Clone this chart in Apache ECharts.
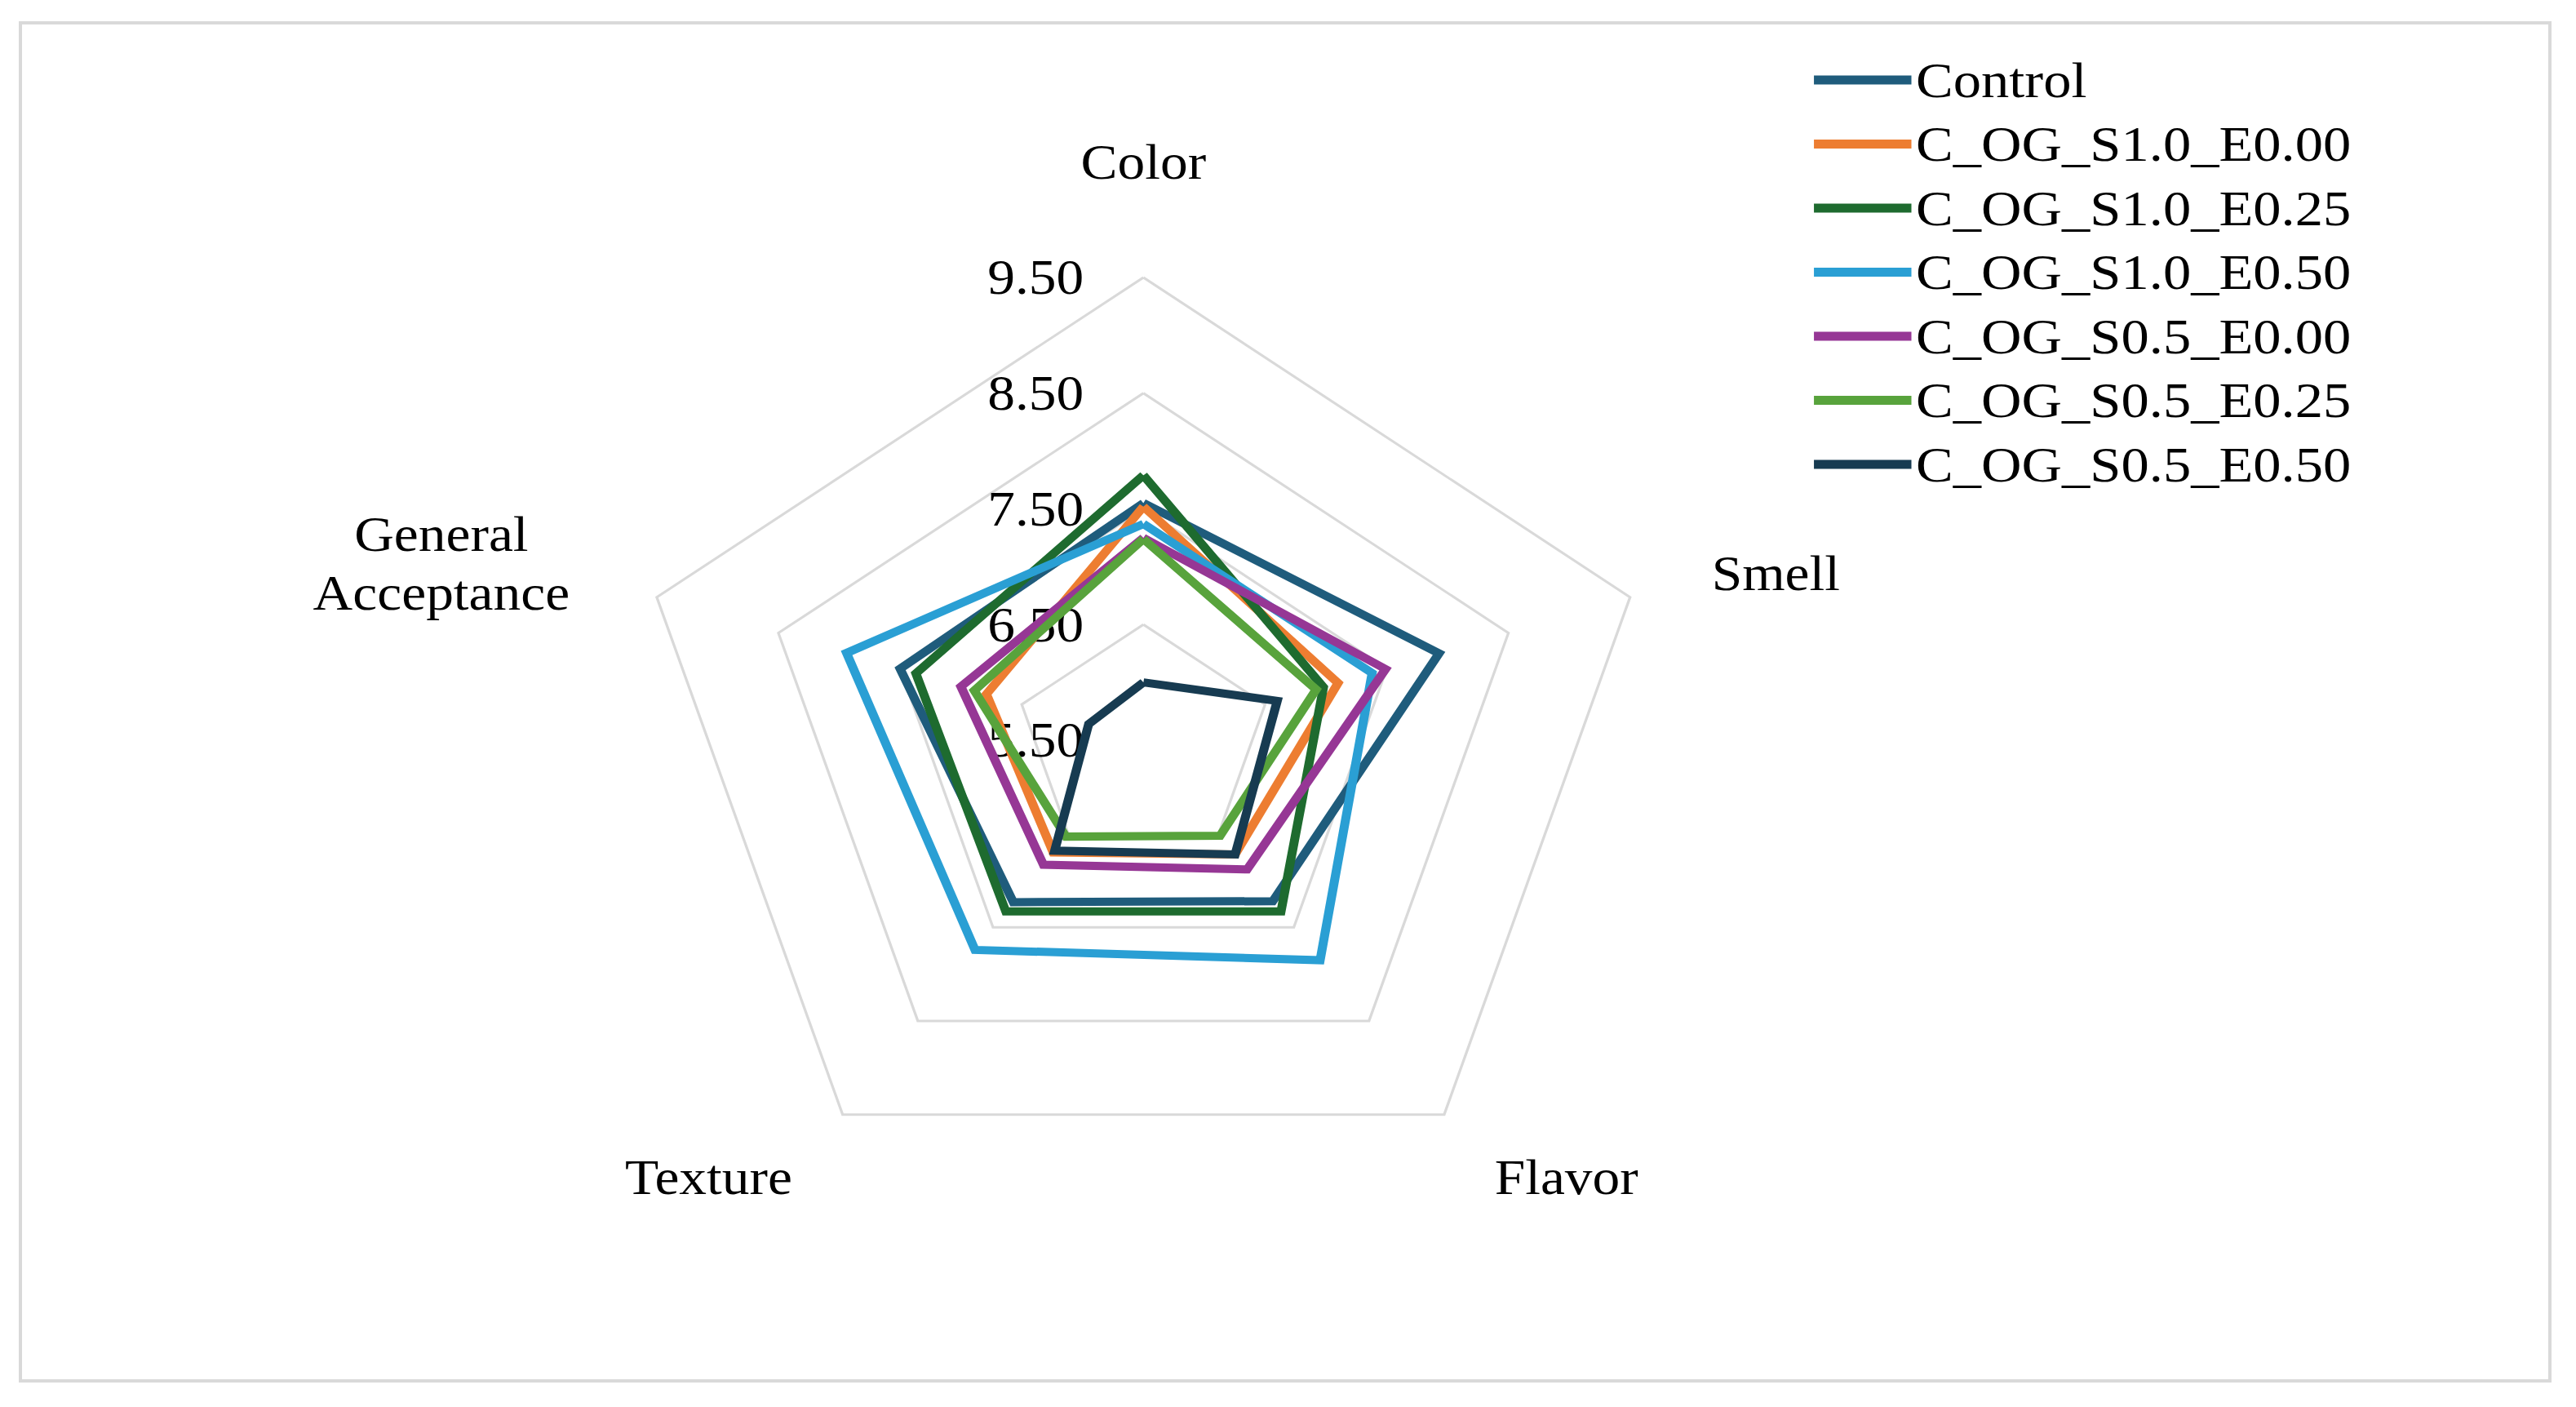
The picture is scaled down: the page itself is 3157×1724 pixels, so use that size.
<!DOCTYPE html>
<html>
<head>
<meta charset="utf-8">
<title>Sensory radar</title>
<script src="https://cdn.jsdelivr.net/npm/echarts@6/dist/echarts.min.js"></script>
<style>
  html, body { margin: 0; padding: 0; background: #fff; }
  #frame { position: absolute; left: 23px; top: 26px; width: 3104px; height: 1668px;
           border: 4px solid #d9d9d9; box-sizing: border-box; }
  /* the Excel original is wider than tall, so the radar is stretched a bit */
  #main { position: absolute; left: 0; top: 0; width: 2854px; height: 1724px;
          transform: scaleX(1.106); transform-origin: 0 0; }
</style>
</head>
<body>
<div id="frame"></div>
<div id="main"></div>
<script>
// ECharts lays indicators out counter-clockwise from the top
var categories = ['Color', 'General Acceptance', 'Texture', 'Flavor', 'Smell'];

var seriesNames = ['Control', 'C_OG_S1.0_E0.00', 'C_OG_S1.0_E0.25', 'C_OG_S1.0_E0.50',
                   'C_OG_S0.5_E0.00', 'C_OG_S0.5_E0.25', 'C_OG_S0.5_E0.50'];
var colors = ['#1f5c7c', '#ed7d31', '#1e6b2f', '#2a9fd4', '#963795', '#58a33c', '#173b51'];

//                Color  GenAcc Texture Flavor Smell
var control    = [7.55, 7.50, 7.23, 7.22, 7.93];
var s10_e000   = [7.52, 6.79, 6.70, 6.72, 7.10];
var s10_e025   = [7.79, 7.37, 7.33, 7.33, 6.98];
var s10_e050   = [7.37, 7.94, 7.74, 7.85, 7.38];
var s05_e000   = [7.25, 7.00, 6.83, 6.88, 7.49];
var s05_e025   = [7.24, 6.89, 6.53, 6.52, 6.92];
var s05_e050   = [6.00, 5.95, 6.68, 6.72, 6.60];
var allValues = [control, s10_e000, s10_e025, s10_e050, s05_e000, s05_e025, s05_e050];

var axisMin = 5.5;
var axisMax = 9.5;

var font = 'Liberation Serif, Times New Roman, serif';

var indicators = categories.map(function (c, i) {
  var ind = { name: c, min: axisMin, max: axisMax, nameGap: 95 };
  if (i === 0) {
    ind.nameGap = 141;
    ind.nameTextStyle = { align: 'center', verticalAlign: 'middle' };
    ind.axisLabel = {
      show: true, margin: 66, color: '#000', fontSize: 61, fontFamily: font,
      formatter: function (v) { return v.toFixed(2); }
    };
  } else if (i === 1) {
    ind.nameGap = 251;
    ind.nameTextStyle = { align: 'center', verticalAlign: 'middle', lineHeight: 72 };
  } else {
    ind.nameTextStyle = { verticalAlign: 'middle' };
  }
  return ind;
});

var series = allValues.map(function (vals, i) {
  return {
    name: seriesNames[i],
    type: 'radar',
    symbol: 'none',
    lineStyle: { color: colors[i], width: 10, join: 'miter' },
    itemStyle: { color: colors[i] },
    data: [{ name: seriesNames[i], value: vals }]
  };
});

var myChart = echarts.init(document.getElementById('main'), null, { renderer: 'svg' });
var option = {
  animation: false,
  legend: {
    orient: 'vertical',
    left: 2010,
    top: 67,
    padding: 0,
    itemGap: 16.5,
    itemWidth: 108,
    itemHeight: 11,
    icon: 'rect',
    textStyle: { color: '#000', fontSize: 62, fontFamily: font, lineHeight: 61 },
    data: seriesNames
  },
  radar: {
    center: [1267, 907],
    radius: 567,
    startAngle: 90,
    splitNumber: 4,
    shape: 'polygon',
    indicator: indicators,
    axisName: {
      color: '#000', fontSize: 61, fontFamily: font,
      // two-line label, pushed down a line's half so it sits level with the vertex
      formatter: function (name) {
        return name === 'General Acceptance' ? '\nGeneral\nAcceptance' : name;
      }
    },
    axisLine: { show: false },
    axisTick: { show: false },
    axisLabel: { show: false },
    splitArea: { show: false },
    splitLine: { lineStyle: { color: '#d9d9d9', width: 3 } }
  },
  series: series
};
option && myChart.setOption(option);
</script>
</body>
</html>
